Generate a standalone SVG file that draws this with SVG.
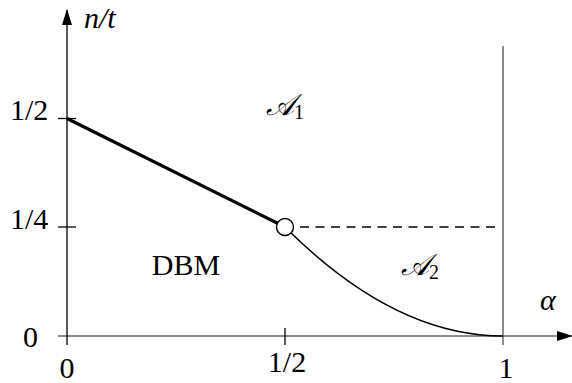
<svg xmlns="http://www.w3.org/2000/svg" width="572" height="383" viewBox="0 0 572 383">
<style>
text{font-family:"Liberation Serif","DejaVu Serif",serif;font-size:30px;fill:#000}
.it{font-style:italic}
.sub{font-size:20px;font-style:normal}
.ax{stroke:#000;stroke-width:1.3;fill:none}
.gr{stroke:#666;stroke-width:1.5;fill:none}
</style>
<defs>
<marker id="arr" viewBox="0 0 16 10" refX="15" refY="5" markerWidth="16" markerHeight="10" markerUnits="userSpaceOnUse" orient="auto">
<path d="M0,0 L16,5 L0,10 Z" fill="#000"/>
</marker>
</defs>
<g id="axes">
<line class="gr" x1="58" y1="336" x2="572" y2="336" marker-end="url(#arr)"/>
<line class="ax" x1="67" y1="345" x2="67" y2="10" marker-end="url(#arr)"/>
<line class="ax" x1="58" y1="118.5" x2="76" y2="118.5"/>
<line class="ax" x1="58" y1="227" x2="76" y2="227"/>
<line class="ax" x1="285" y1="328" x2="285" y2="345"/>
<line class="gr" x1="503" y1="46" x2="503" y2="345"/>
</g>
<g id="connectors">
<line x1="67" y1="118.5" x2="285" y2="227" stroke="#000" stroke-width="3.2"/>
<line x1="300" y1="227" x2="496" y2="227" stroke="#000" stroke-width="1.5" stroke-dasharray="9,6.5"/>
<path d="M285,227 Q394,336 503,336" fill="none" stroke="#000" stroke-width="1.5"/>
</g>
<g id="point">
<circle cx="285" cy="227" r="8.5" fill="#fff" stroke="#000" stroke-width="1.4"/>
</g>
<g id="labels">
<text class="it" x="84" y="28">n/t</text>
<text x="10" y="120">1/2</text>
<text x="10" y="229">1/4</text>
<text x="23" y="347">0</text>
<text x="67" y="378" text-anchor="middle">0</text>
<text x="287" y="372" text-anchor="middle">1/2</text>
<text x="506" y="378" text-anchor="middle">1</text>
<text class="it" x="540" y="310">α</text>
<text x="186" y="275" text-anchor="middle">DBM</text>
<text class="it" x="266" y="115">𝒜<tspan class="sub" dy="4">1</tspan></text>
<text class="it" x="401" y="275">𝒜<tspan class="sub" dy="4">2</tspan></text>
</g>
</svg>
